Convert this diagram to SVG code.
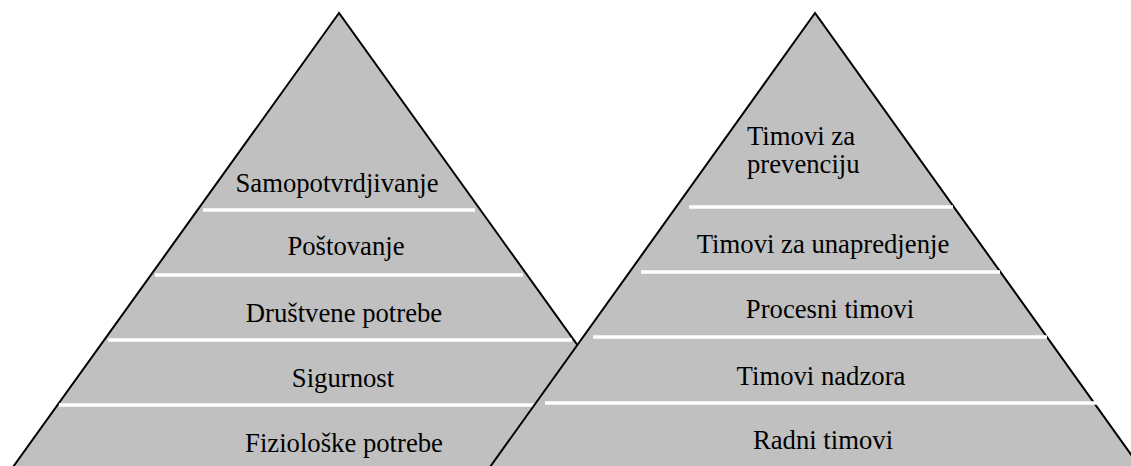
<svg xmlns="http://www.w3.org/2000/svg" width="1131" height="466" viewBox="0 0 1131 466">
<style>
.tri{fill:#c0c0c0;stroke:#000;stroke-width:2;stroke-linejoin:miter}
.sep{stroke:#fff;stroke-width:3.5}
text{font-family:"Liberation Serif","Times New Roman",serif;font-size:26.7px;fill:#000}
.c{text-anchor:middle}
</style>
<rect width="1131" height="466" fill="#fff"/>
<g id="pyramid-left">
<polygon class="tri" points="339,13 13,467 665,467"/>
<line class="sep" x1="203" y1="210" x2="475" y2="210"/>
<line class="sep" x1="155" y1="275" x2="523" y2="275"/>
<line class="sep" x1="108" y1="340" x2="572" y2="340"/>
<line class="sep" x1="59" y1="405" x2="600" y2="405"/>
<text class="c" x="337" y="192">Samopotvrdjivanje</text>
<text class="c" x="346" y="255">Poštovanje</text>
<text class="c" x="344" y="322">Društvene potrebe</text>
<text class="c" x="343" y="387">Sigurnost</text>
<text class="c" x="344" y="452">Fiziološke potrebe</text>
</g>
<g id="pyramid-right">
<polygon class="tri" points="815,13 490,467 1140,467"/>
<line class="sep" x1="689" y1="207" x2="953" y2="207"/>
<line class="sep" x1="641" y1="272" x2="1000" y2="272"/>
<line class="sep" x1="593" y1="337" x2="1047" y2="337"/>
<line class="sep" x1="545" y1="403" x2="1131" y2="403"/>
<text x="747" y="145">Timovi za</text>
<text x="747" y="173">prevenciju</text>
<text class="c" x="823" y="253">Timovi za unapredjenje</text>
<text class="c" x="830" y="318">Procesni timovi</text>
<text class="c" x="821" y="385">Timovi nadzora</text>
<text class="c" x="823" y="449">Radni timovi</text>
</g>
<g id="connectors"></g>
</svg>
